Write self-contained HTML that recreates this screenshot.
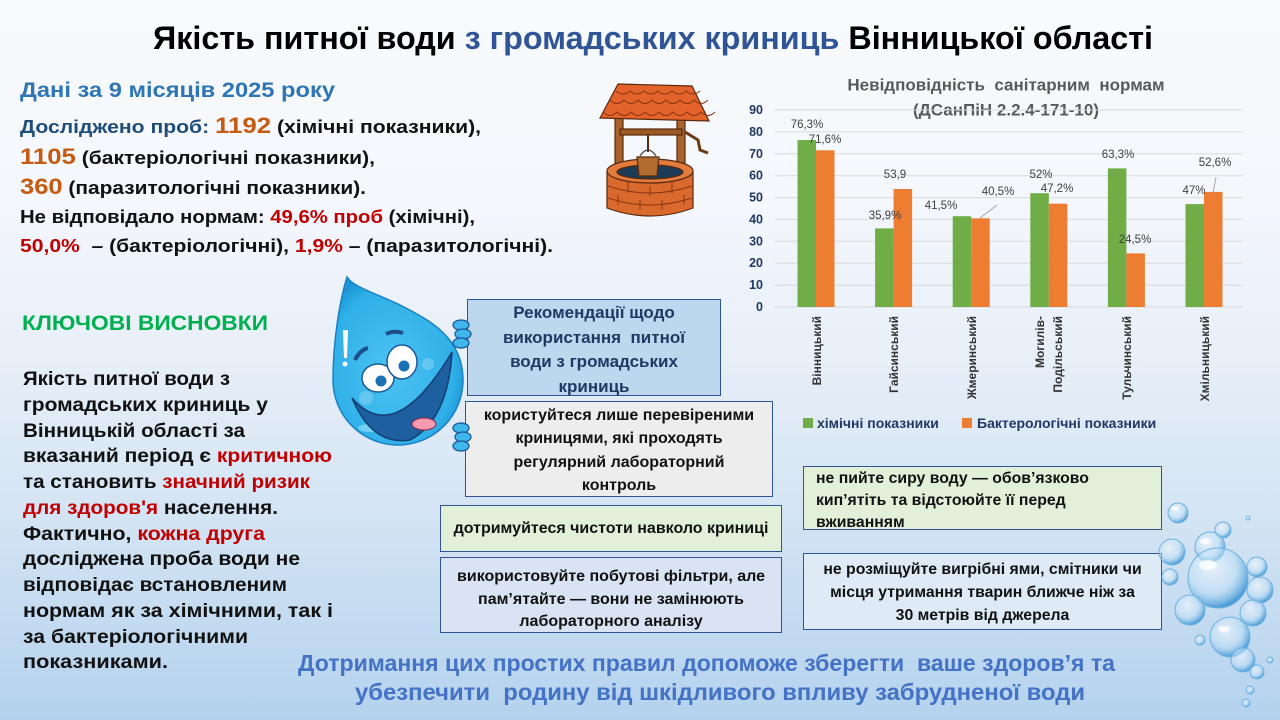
<!DOCTYPE html>
<html lang="uk">
<head>
<meta charset="utf-8">
<style>
html,body{margin:0;padding:0;}
body{width:1280px;height:720px;overflow:hidden;position:relative;
 font-family:"Liberation Sans","DejaVu Sans",sans-serif;
 background:linear-gradient(180deg,#f8fafd 0%,#f4f7fc 28%,#e7eff8 50%,#d0e2f3 75%,#b4d2ee 100%);}
.ln{position:absolute;white-space:nowrap;font-weight:bold;color:#111;}
.ln>span{display:inline-block;transform-origin:0 50%;}
.r{color:#c00000;}
.o{color:#c55a11;font-size:22px;}
.box{position:absolute;box-sizing:border-box;border:1px solid #2f5597;font-weight:bold;color:#111;text-align:center;white-space:nowrap;}
svg{position:absolute;left:0;top:0;}
</style>
</head>
<body>

<svg width="1280" height="720" viewBox="0 0 1280 720" style="z-index:1">
 <defs>
  <radialGradient id="bub" cx="0.4" cy="0.35" r="0.65">
   <stop offset="0" stop-color="#ffffff" stop-opacity="0.5"/>
   <stop offset="0.6" stop-color="#bfe0f7" stop-opacity="0.5"/>
   <stop offset="1" stop-color="#3c95d4" stop-opacity="0.9"/>
  </radialGradient>
 </defs>
 <!-- chart title -->
 <text x="1006" y="85" text-anchor="middle" dominant-baseline="central" font-size="17" font-weight="bold" fill="#595959" xml:space="preserve">Невідповідність  санітарним  нормам</text>
 <text x="1006" y="110" text-anchor="middle" dominant-baseline="central" font-size="17" font-weight="bold" fill="#595959">(ДСанПіН 2.2.4-171-10)</text>
 <!-- grid -->
 <g stroke="#d9d9d9" stroke-width="1">
  <line x1="775" y1="110" x2="1243" y2="110"/>
  <line x1="775" y1="131.9" x2="1243" y2="131.9"/>
  <line x1="775" y1="153.8" x2="1243" y2="153.8"/>
  <line x1="775" y1="175.7" x2="1243" y2="175.7"/>
  <line x1="775" y1="197.6" x2="1243" y2="197.6"/>
  <line x1="775" y1="219.4" x2="1243" y2="219.4"/>
  <line x1="775" y1="241.3" x2="1243" y2="241.3"/>
  <line x1="775" y1="263.2" x2="1243" y2="263.2"/>
  <line x1="775" y1="285.1" x2="1243" y2="285.1"/>
  <line x1="775" y1="307" x2="1243" y2="307"/>
 </g>
 <!-- y labels -->
 <g font-size="12.5" font-weight="bold" fill="#1f3864" text-anchor="end" dominant-baseline="central">
  <text x="763" y="110">90</text>
  <text x="763" y="131.9">80</text>
  <text x="763" y="153.8">70</text>
  <text x="763" y="175.7">60</text>
  <text x="763" y="197.6">50</text>
  <text x="763" y="219.4">40</text>
  <text x="763" y="241.3">30</text>
  <text x="763" y="263.2">20</text>
  <text x="763" y="285.1">10</text>
  <text x="763" y="307">0</text>
 </g>
 <!-- bars -->
 <g fill="#70ad47">
  <rect x="797.5" y="140" width="18.5" height="167"/>
  <rect x="875.1" y="228.4" width="18.5" height="78.6"/>
  <rect x="952.7" y="216.2" width="18.5" height="90.8"/>
  <rect x="1030.3" y="193.2" width="18.5" height="113.8"/>
  <rect x="1107.9" y="168.4" width="18.5" height="138.6"/>
  <rect x="1185.5" y="204.1" width="18.5" height="102.9"/>
 </g>
 <g fill="#ed7d31">
  <rect x="816" y="150.3" width="18.5" height="156.7"/>
  <rect x="893.6" y="189" width="18.5" height="118"/>
  <rect x="971.2" y="218.3" width="18.5" height="88.7"/>
  <rect x="1048.8" y="203.7" width="18.5" height="103.3"/>
  <rect x="1126.4" y="253.4" width="18.5" height="53.6"/>
  <rect x="1204" y="191.9" width="18.5" height="115.1"/>
 </g>
 <!-- leader lines -->
 <g stroke="#a6a6a6" stroke-width="1">
  <line x1="997" y1="205" x2="980" y2="218"/>
  <line x1="1216" y1="177" x2="1213" y2="193"/>
 </g>
 <!-- data labels -->
 <g font-size="11.5" fill="#404040" text-anchor="middle" dominant-baseline="central">
  <text x="807" y="125">76,3%</text>
  <text x="825" y="140">71,6%</text>
  <text x="895" y="175">53,9</text>
  <text x="885" y="216">35,9%</text>
  <text x="941" y="206">41,5%</text>
  <text x="998" y="192">40,5%</text>
  <text x="1041" y="175">52%</text>
  <text x="1057" y="189">47,2%</text>
  <text x="1118" y="155">63,3%</text>
  <text x="1135" y="240">24,5%</text>
  <text x="1215" y="163">52,6%</text>
  <text x="1194" y="191">47%</text>
 </g>
 <!-- category labels -->
 <g font-size="12" font-weight="bold" fill="#333" text-anchor="end" dominant-baseline="central">
  <text transform="translate(817,316) rotate(-90)">Вінницький</text>
  <text transform="translate(894,316) rotate(-90)">Гайсинський</text>
  <text transform="translate(972,316) rotate(-90)">Жмеринський</text>
  <text transform="translate(1040,316) rotate(-90)">Могилів-</text>
  <text transform="translate(1058,316) rotate(-90)">Подільський</text>
  <text transform="translate(1127,316) rotate(-90)">Тульчинський</text>
  <text transform="translate(1205,316) rotate(-90)">Хмільницький</text>
 </g>
 <!-- legend -->
 <rect x="803" y="418" width="10" height="10" fill="#70ad47"/>
 <text x="817" y="423" font-size="14" font-weight="bold" fill="#203864" dominant-baseline="central">хімічні показники</text>
 <rect x="962" y="418" width="10" height="10" fill="#ed7d31"/>
 <text x="977" y="423" font-size="14" font-weight="bold" fill="#203864" dominant-baseline="central">Бактерологічні показники</text>

 <!-- well -->
 <g stroke="#5a2a0e" stroke-width="1.2">
  <rect x="615" y="116" width="8" height="70" fill="#a8642c"/>
  <rect x="677" y="112" width="8" height="74" fill="#a8642c"/>
  <rect x="620" y="129" width="62" height="6" fill="#9a5a26"/>
  <path d="M685 132 L698 140 L700 150 L708 153" fill="none" stroke="#6b3a16" stroke-width="3"/>
  <polygon points="618,84 692,86 709,121 600,118" fill="#e4632b"/>
  <path d="M603 112 q7 7 14 0 q7 7 14 0 q7 7 14 0 q7 7 14 0 q7 7 14 0 q7 7 14 0 q7 7 14 0 q7 7 14 0" fill="none" stroke="#8a3512" stroke-width="1"/>
  <path d="M610 100 q7 7 14 0 q7 7 14 0 q7 7 14 0 q7 7 14 0 q7 7 14 0 q7 7 14 0 q7 7 14 0" fill="none" stroke="#8a3512" stroke-width="1"/>
  <path d="M616 91 q7 6 14 0 q7 6 14 0 q7 6 14 0 q7 6 14 0 q7 6 14 0 q7 6 14 0" fill="none" stroke="#8a3512" stroke-width="1"/>
  <path d="M607 172 L607 208 Q650 224 693 208 L693 172 Z" fill="#d9692c"/>
  <ellipse cx="650" cy="171" rx="43" ry="12" fill="#e27b3c"/>
  <ellipse cx="650" cy="172" rx="33" ry="7" fill="#1e3b58"/>
  <line x1="648" y1="135" x2="648" y2="152" stroke-width="2"/>
  <path d="M640 156 Q648 144 656 156" fill="none" stroke="#444"/>
  <path d="M637 157 L659 157 L657 176 L639 176 Z" fill="#b36a2e"/>
 </g>
 <g stroke="#8a3512" stroke-width="1" fill="none">
  <path d="M608 186 Q650 200 692 186"/>
  <path d="M608 198 Q650 212 692 198"/>
  <line x1="628" y1="182" x2="628" y2="193"/><line x1="650" y1="186" x2="650" y2="196"/><line x1="672" y1="182" x2="672" y2="193"/>
  <line x1="618" y1="195" x2="618" y2="205"/><line x1="640" y1="200" x2="640" y2="210"/><line x1="662" y1="200" x2="662" y2="210"/><line x1="684" y1="195" x2="684" y2="205"/>
 </g>

 <!-- bubbles -->
 <g fill="url(#bub)" stroke="#6fb2e0" stroke-width="1">
  <circle cx="1178" cy="513" r="10"/>
  <circle cx="1223" cy="530" r="8"/>
  <circle cx="1172" cy="552" r="13"/>
  <circle cx="1210" cy="547" r="15"/>
  <circle cx="1170" cy="577" r="8"/>
  <circle cx="1257" cy="567" r="10"/>
  <circle cx="1260" cy="590" r="13"/>
  <circle cx="1218" cy="578" r="30"/>
  <circle cx="1190" cy="610" r="15"/>
  <circle cx="1253" cy="613" r="13"/>
  <circle cx="1230" cy="637" r="20"/>
  <circle cx="1243" cy="660" r="12"/>
  <circle cx="1257" cy="672" r="7"/>
  <circle cx="1250" cy="690" r="4"/>
  <circle cx="1246" cy="703" r="4"/>
  <circle cx="1270" cy="660" r="3"/>
  <circle cx="1248" cy="518" r="2"/>
  <circle cx="1200" cy="640" r="5"/>
 </g>
 <g fill="#ffffff" opacity="0.8">
  <ellipse cx="1208" cy="565" rx="9" ry="5"/>
  <ellipse cx="1175" cy="508" rx="4" ry="2"/>
  <ellipse cx="1205" cy="541" rx="5" ry="3"/>
  <ellipse cx="1224" cy="629" rx="6" ry="3"/>
 </g>
</svg>

<!-- Title -->
<div class="ln fit" style="left:153px;top:17px;width:1000px;height:42px;line-height:42px;font-size:32px;color:#000;"><span>Якість питної води <span style="color:#2f5597">з громадських криниць</span> Вінницької області</span></div>

<!-- Top left text -->
<div class="ln fit" style="left:20px;top:76px;width:315px;height:30px;line-height:30px;font-size:21px;color:#2e75b6;"><span>Дані за 9 місяців 2025 року</span></div>
<div class="ln fit" style="left:20px;top:111px;width:461px;height:30px;line-height:30px;font-size:18px;"><span><span style="color:#1f4e79">Досліджено проб:</span> <span class="o">1192</span> (хімічні показники),</span></div>
<div class="ln fit" style="left:20px;top:142px;width:355px;height:30px;line-height:30px;font-size:18px;"><span><span class="o">1105</span> (бактеріологічні показники),</span></div>
<div class="ln fit" style="left:20px;top:172px;width:346px;height:30px;line-height:30px;font-size:18px;"><span><span class="o">360</span> (паразитологічні показники).</span></div>
<div class="ln fit" style="left:20px;top:202px;width:455px;height:30px;line-height:30px;font-size:18px;"><span>Не відповідало нормам: <span class="r">49,6% проб</span> (хімічні),</span></div>
<div class="ln fit" style="left:20px;top:231px;width:533px;height:30px;line-height:30px;font-size:18px;"><span><span class="r">50,0%</span>&nbsp; – (бактеріологічні), <span class="r">1,9%</span> – (паразитологічні).</span></div>

<!-- Key conclusions -->
<div class="ln fit" style="left:22px;top:309px;width:246px;height:30px;line-height:30px;font-size:21px;color:#00b050;text-decoration:underline;"><span>КЛЮЧОВІ ВИСНОВКИ</span></div>

<div class="ln fit" style="left:23px;top:367px;width:207px;height:26px;line-height:26px;font-size:19px;"><span>Якість питної води з</span></div>
<div class="ln fit" style="left:23px;top:392.75px;width:245px;height:26px;line-height:26px;font-size:19px;"><span>громадських криниць у</span></div>
<div class="ln fit" style="left:23px;top:418.5px;width:222px;height:26px;line-height:26px;font-size:19px;"><span>Вінницькій області за</span></div>
<div class="ln fit" style="left:23px;top:444.25px;width:309px;height:26px;line-height:26px;font-size:19px;"><span>вказаний період є <span class="r">критичною</span></span></div>
<div class="ln fit" style="left:23px;top:470px;width:287px;height:26px;line-height:26px;font-size:19px;"><span>та становить <span class="r">значний ризик</span></span></div>
<div class="ln fit" style="left:23px;top:495.75px;width:255px;height:26px;line-height:26px;font-size:19px;"><span><span class="r">для здоров'я</span> населення.</span></div>
<div class="ln fit" style="left:23px;top:521.5px;width:242px;height:26px;line-height:26px;font-size:19px;"><span>Фактично, <span class="r">кожна друга</span></span></div>
<div class="ln fit" style="left:23px;top:547.25px;width:277px;height:26px;line-height:26px;font-size:19px;"><span>досліджена проба води не</span></div>
<div class="ln fit" style="left:23px;top:573px;width:264px;height:26px;line-height:26px;font-size:19px;"><span>відповідає встановленим</span></div>
<div class="ln fit" style="left:23px;top:598.75px;width:310px;height:26px;line-height:26px;font-size:19px;"><span>нормам як за хімічними, так і</span></div>
<div class="ln fit" style="left:23px;top:624.5px;width:225px;height:26px;line-height:26px;font-size:19px;"><span>за бактеріологічними</span></div>
<div class="ln fit" style="left:23px;top:650.25px;width:145px;height:26px;line-height:26px;font-size:19px;"><span>показниками.</span></div>

<!-- Boxes -->
<div class="box" style="left:467px;top:299px;width:254px;height:97px;background:#bdd7ee;color:#1f3864;font-size:17px;line-height:24.5px;padding-top:1px;">Рекомендації щодо<br>використання&nbsp; питної<br>води з громадських<br>криниць</div>
<div class="box" style="left:465px;top:401px;width:308px;height:96px;background:#ededed;font-size:16px;line-height:23.3px;padding-top:2px;">користуйтеся лише перевіреними<br>криницями, які проходять<br>регулярний лабораторний<br>контроль</div>
<div class="box" style="left:440px;top:505px;width:342px;height:47px;background:#e2f0d9;font-size:16px;line-height:45px;">дотримуйтеся чистоти навколо криниці</div>
<div class="box" style="left:440px;top:557px;width:342px;height:76px;background:#dae3f3;font-size:16px;line-height:22.5px;padding-top:8px;">використовуйте побутові фільтри, але<br>пам’ятайте — вони не замінюють<br>лабораторного аналізу</div>
<div class="box" style="left:803px;top:466px;width:359px;height:64px;background:#e2f0d9;font-size:15.8px;line-height:22px;text-align:left;padding-left:12px;padding-top:1px;">не пийте сиру воду — обов’язково<br>кип’ятіть та відстоюйте її перед<br>вживанням</div>
<div class="box" style="left:803px;top:553px;width:359px;height:77px;background:#deebf7;font-size:15.8px;line-height:23px;padding-top:4px;">не розміщуйте вигрібні ями, смітники чи<br>місця утримання тварин ближче ніж за<br>30 метрів від джерела</div>

<!-- Bottom text -->
<div class="ln fit" style="left:298px;top:648px;width:817px;height:30px;line-height:30px;font-size:23px;color:#4472c4;"><span>Дотримання цих простих правил допоможе зберегти&nbsp; ваше здоров’я та</span></div>
<div class="ln fit" style="left:355px;top:677px;width:730px;height:30px;line-height:30px;font-size:23px;color:#4472c4;"><span>убезпечити&nbsp; родину від шкідливого впливу забрудненої води</span></div>

<!-- Water drop (on top) -->
<svg width="1280" height="720" viewBox="0 0 1280 720" style="z-index:5;pointer-events:none">
 <defs>
  <radialGradient id="dropg" cx="0.45" cy="0.55" r="0.6">
   <stop offset="0" stop-color="#4cc3f2"/>
   <stop offset="0.8" stop-color="#2fb0e8"/>
   <stop offset="1" stop-color="#1a93d6"/>
  </radialGradient>
 </defs>
 <path d="M347 277 C340 300 333 340 333 380 A65 65 0 0 0 463 380 C463 335 425 318 398 304 C372 292 352 286 347 277 Z" fill="url(#dropg)" stroke="#1b80c4" stroke-width="1.5"/>
 <path d="M343 330 L348 330 L347 358 L344 358 Z" fill="#ffffff"/>
 <circle cx="345" cy="364" r="2.5" fill="#ffffff"/>
 <ellipse cx="370" cy="428" rx="12" ry="4" fill="#8fdaf7" opacity="0.7"/>
 <path d="M352 398 Q395 448 452 352 Q448 420 410 440 Q372 446 352 398 Z" fill="#1e5fa0" stroke="#123e70" stroke-width="1.5"/>
 <ellipse cx="424" cy="424" rx="12" ry="6" fill="#f59ab0" stroke="#8a2a4a" stroke-width="1"/>
 <ellipse cx="378" cy="378" rx="16" ry="14" fill="#ffffff" stroke="#1a5a9a" stroke-width="1.5"/>
 <ellipse cx="402" cy="362" rx="15" ry="17" fill="#ffffff" stroke="#1a5a9a" stroke-width="1.5"/>
 <circle cx="381" cy="381" r="5.5" fill="#1d6fb5"/>
 <circle cx="404" cy="366" r="5.5" fill="#1d6fb5"/>
 <path d="M355 360 Q360 350 368 348" fill="none" stroke="#1a4f8a" stroke-width="4"/>
 <path d="M386 334 Q394 330 403 333" fill="none" stroke="#1a4f8a" stroke-width="4"/>
 <circle cx="366" cy="398" r="7" fill="#7fd0f2" opacity="0.6"/>
 <circle cx="428" cy="364" r="6" fill="#7fd0f2" opacity="0.6"/>
 <g fill="#3fb6ec" stroke="#1a5a9a" stroke-width="1.3">
  <ellipse cx="461" cy="325" rx="8" ry="5"/>
  <ellipse cx="463" cy="334" rx="8" ry="5"/>
  <ellipse cx="461" cy="343" rx="8" ry="5"/>
  <ellipse cx="461" cy="428" rx="8" ry="5"/>
  <ellipse cx="463" cy="437" rx="8" ry="5"/>
  <ellipse cx="461" cy="446" rx="8" ry="5"/>
 </g>
</svg>

<script>
(function(){
 var els=document.querySelectorAll('.fit');
 for(var i=0;i<els.length;i++){
  var el=els[i], sp=el.firstElementChild;
  var w=parseFloat(el.style.width);
  var s=sp.getBoundingClientRect().width;
  if(s>0){var k=w/s; if(k<0.75)k=0.75; if(k>1.25)k=1.25; sp.style.transform='scaleX('+k+')';}
 }
})();
</script>
</body>
</html>
